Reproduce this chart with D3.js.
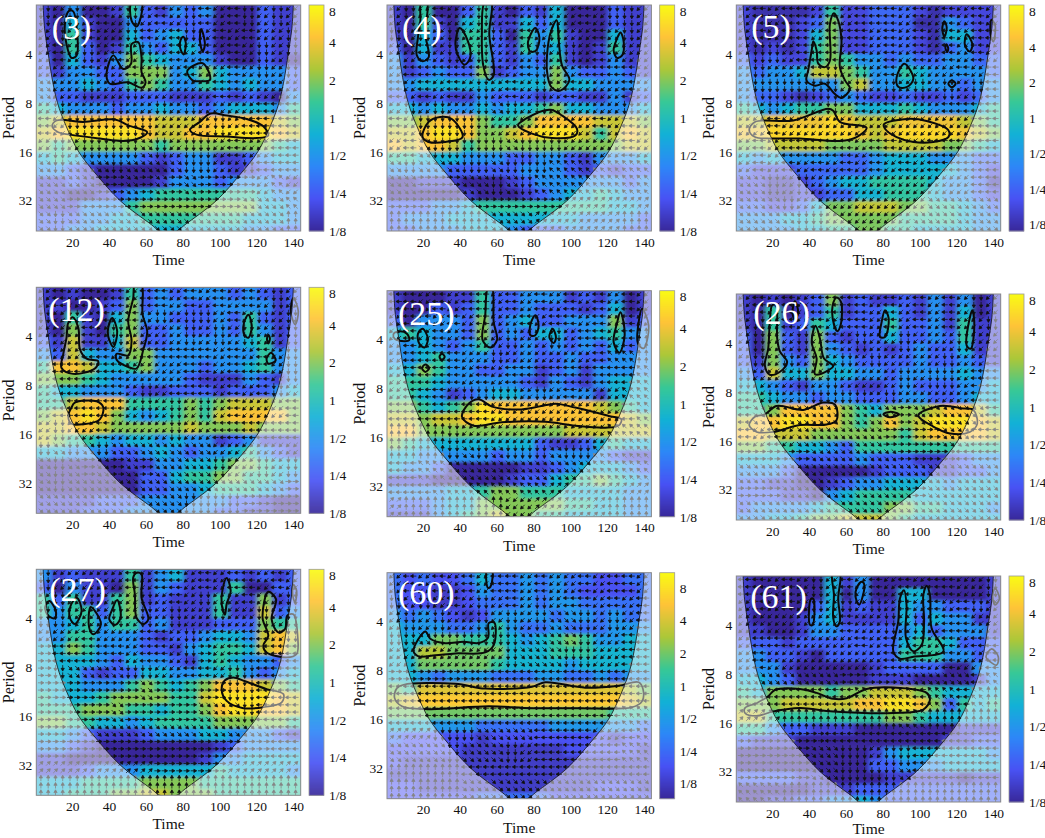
<!DOCTYPE html>
<html><head><meta charset="utf-8">
<script src="https://cdnjs.cloudflare.com/ajax/libs/d3/7.8.5/d3.min.js"></script>
<style>html,body{margin:0;padding:0;background:#fff}svg{display:block}text{font-family:"Liberation Serif",serif;fill:#111}</style>
</head><body><svg id="c" width="1045" height="838"></svg>
<script>
// Period rows run in quarter octaves from period 2; time columns are 8 units wide. Digits are power levels.
const power3=["103001521323000211","104100322222000211","105100423422000211","105201532442000211","204213654333100210","213322666346433332","333432565335434332","322111222111212103","543332334332344435","678888887778888876","789999987788999987","656666665666666654","454333321233112344","332100000233211233","112100001333233321","110012345555555433","111333566666666443","222334455555554443","223344444444443322"];
const power4=["105002510214000211","105104511424000211","104205520535100411","204115521534101511","313212521325101311","312322612336322321","334444444446443333","221211322212211312","443433434456443334","667888655688887776","778998667899975787","878875666666666677","554443332233213334","333322222333212122","001110001233333323","000001000123445433","222334555555555443","233344444444433332","223334443222333322"];
const power5=["100001511222101111","100012611222003211","100014611222104411","101015611222102311","212115653323223322","323347765335433332","333333367334433233","322101232112112123","543455664445433345","778888987778888765","889999998789999876","667777666677776654","434333322344433322","211122222344444321","110012344555543320","110011224455543321","221124667776655432","333445666665555433","333344556655444433"];
const power12=["101001523233323212","110012623322333312","105104633222325212","106105622322325312","217114722333334512","327433663333333533","588744563332334533","666543333321113213","544333211222122234","557888555565677766","678986434565788886","778876666676667666","765543443433123111","443332234323345321","000000113344566544","000000022455665543","000000022334555432","111122233333322100","111222333333221100"];
const power25=["100011522333121301","100212522322212401","203332623422333612","454332623244234533","334323522323232423","334533322322322333","446533223312313333","555433333213213444","554312344333331444","665456988888887654","776778998888888876","886666666666777777","654444444421124544","443333323323333211","433200000112344432","111000001224556543","333344566555444433","222344666666554433","111345676655444433"];
const power26=["101012612112131301","105012512242131401","105125422252231511","206216212242232511","206216321212322411","216326432222322321","327446443323333433","443213321123222334","554332332223322344","556888865466678875","788998865686799987","887776666665788887","665544325555555555","444322223222111233","333200000122211223","221100123344443444","222110345555444444","233334555566554443","334456677765444444"];
const power27=["312111513411121212","203110613211150022","525115612111511612","535525622111511723","334535523111222655","335533321223443787","446533322134554786","444432433214543323","444212244334453234","444333565456888765","544456666557999987","555666554556899887","665544345555666665","443211123334433321","332100000000123333","110000000001334444","111233344444544443","444555566665555555","445556677666555555"];
const power60=["212112422323221122","211001322323211112","211001222323322222","323210133332332322","433322353223222333","444665554345653344","447766664445554444","446666654444344444","443233322233223233","658888888888888876","789999999999999987","666666666666666555","444333222223333332","211111011111111011","111110000000111110","100000000000000000","000000000000000000","110000000000001110","111111222221111111"];
const power61=["100000413000000001","100000403004400001","100002412114332221","100013411114243311","110013322223423331","222122222224554222","332210222225553322","333100000122220033","443200000111000013","546666566777654444","666777778899862545","775555555566544444","553221110000000111","211100000000001122","000000000134444443","000000000223334444","222211000011111011","000001112222222222","001122334322222222"];
const levelLog2=[-3,-2.5,-1.9,-1.1,-0.4,0.3,1,1.6,2.1,2.6];

// Phase directions in keypad notation (8 up, 6 right, 2 down, 4 left, and diagonals between).
const phase3=["212141214124142121","121411241421414112","141214121414141212","111411412141141212","311211211111441111","121112112121111444","412222221111214444","121222232122141144","323332333322112444","333366363636666171","336666666666663337","323333333333333338"];
const phase4=["121411214121141221","212121121412114121","114121211121214111","144444441421144441","414141214121411141","121211232121111121","412222211111114141","143222223222111141","323332232227777777","336663323277777777","666666666666999999","888888833399999988"];
const phase5=["141441414441414141","141441444141414144","122144414141414141","121114212141111414","122222212121212124","212121214141114444","114111111111111144","141444441441144444","141414141414144444","332121111111111144","333211111111133333","333322111111333333"];
const phase12=["141414144141414121","212141412122141212","111412111121212112","111441144444141412","144444111144144412","144444121444141421","144444121212141114","121141111211444444","232323333333111111","323636363333211212","323333333333333336","333333333322226666"];
const phase25=["441414414141414141","144141411414414141","141414112112144148","144441121111114778","144441414444444447","144412222121411177","444444411111111147","888821111111111777","888823232223227777","447733333333337777","444777777779999999","988888881199999888"];
const phase26=["141414444141414121","121414144141414112","121121412112111211","121212121211112114","211121211112122144","412122222121111144","433333333336333334","414133333366663344","666663333336666444","333333333333333333","666333333333633333","333333333333333333"];
const phase27=["211111414414144141","121211121412114112","221112121211211212","111411144121414412","644444144126144444","623333221144122444","666666636666622444","666663666663332444","666333333333333344","666666666666666644","999999996666699999","888888888888888888"];
const phase60=["141414144141141441","212141214121441414","121211212123321214","223222222333321144","111111112333221144","666666444444444444","444444444444444444","444444444444444477","999222333344441147","333323332144444477","888884444444444444","888883333333333333"];
const phase61=["441412141414144112","141412121214141421","111111141121214411","144411114141414144","141111111144414114","333333366663333347","444444447777477478","999888888887788888","666666444444444444","666663322122444444","666663322223444444","777888888888888888"];

// Significance contours as [time, log2 period].
const contours3=[
[[18.2,1.12],[20.5,1.13],[22.7,1.59],[22.4,2.03],[19.6,2.08],[16.9,1.8],[16,1.39]],
[[42.3,2.03],[47.7,2.31],[51.9,2.2],[52.2,1.8],[55.8,1.76],[57.6,2.07],[57.6,2.37],[59.8,2.58],[57.6,2.69],[50.4,2.58],[40.5,2.61],[38.6,2.44]],
[[52.2,0.95],[57.6,0.95],[56.7,1.32],[54.9,1.44],[52.2,1.32]],
[[80.3,1.65],[81.7,1.8],[80.3,2.01],[78.5,1.86],[78.8,1.72]],
[[90,1.49],[92,1.8],[90.8,1.95],[89.3,1.73]],
[[90.8,2.19],[94.8,2.53],[89.3,2.56],[85.3,2.54],[82.4,2.35]],
[[11.5,3.36],[26,3.39],[43.2,3.34],[50.4,3.46],[60.7,3.6],[55.8,3.73],[47.7,3.78],[35,3.73],[18.7,3.65],[12.4,3.6],[9.1,3.48]],
[[95.1,3.22],[103.8,3.26],[114.7,3.33],[123.7,3.48],[126.4,3.67],[120,3.72],[103.8,3.69],[87.5,3.65],[83.9,3.55],[89.3,3.39]]];
const contours4=[
[[19.1,0.95],[22.2,0.95],[21.3,1.59],[23.1,2.07],[19.8,2.15],[16.7,2.03],[17.3,1.66],[18.6,1.32]],
[[39.9,1.47],[43.9,1.69],[45.7,2.07],[42.6,2.22],[39,2.03],[37.6,1.8]],
[[53.5,0.95],[57.1,0.95],[56,1.59],[58.4,2.44],[55.7,2.53],[52.9,2.27],[52,1.59]],
[[81,1.47],[83.2,1.66],[81.4,1.93],[78.3,1.95],[77,1.76]],
[[92.6,1.31],[93.7,1.73],[95.5,2.24],[99.5,2.53],[94.6,2.75],[90,2.69],[87.3,2.34],[89.1,1.59]],
[[127.2,1.56],[129,1.76],[128.1,2.03],[125.3,2.08],[123.5,1.93],[125.3,1.69]],
[[29.4,3.29],[35.7,3.33],[41.5,3.7],[32.1,3.8],[23.1,3.8],[19.8,3.7],[23.1,3.39]],
[[89.1,3.14],[95.5,3.26],[103.6,3.53],[102.7,3.67],[90,3.72],[79.2,3.63],[71.6,3.46],[75.6,3.33]]];
const contours5=[
[[42.3,1.74],[44.1,1.93],[45,2.2],[48.6,2.27],[51.3,2.14],[51.3,1.39],[53.5,1.17],[55.8,1.32],[57.6,1.73],[56.7,2.27],[59.5,2.54],[62.2,2.71],[57.6,2.9],[54,2.82],[48.6,2.61],[43.2,2.65],[38.6,2.54],[39.5,2.34],[41.4,1.93]],
[[91.7,2.2],[96.6,2.51],[92.9,2.68],[88.4,2.67],[87.5,2.48]],
[[113.4,1.33],[114.7,1.46],[113.4,1.65],[112.3,1.49]],
[[125.5,1.6],[128.6,1.8],[127.3,1.95],[124.6,1.83]],
[[117.4,2.54],[119.5,2.61],[117.4,2.68],[115.6,2.61]],
[[114.5,1.8],[115.5,1.88],[115,1.96],[114,1.88]],
[[139,1.3],[141,1.42],[140,1.75],[138.5,1.6]],
[[10.6,3.39],[31.4,3.36],[50.4,3.12],[53.1,3.16],[56.7,3.39],[71.2,3.51],[65.8,3.7],[56.7,3.78],[35,3.73],[19.6,3.73],[10.6,3.7],[7.5,3.56]],
[[80.6,3.44],[92.9,3.33],[103.8,3.37],[115.6,3.56],[115.6,3.7],[107.4,3.8],[96.6,3.8],[87.5,3.7],[81.2,3.53]]];
const contours12=[
[[20.2,1.61],[23.3,1.83],[24.2,2.27],[27.8,2.46],[34.1,2.51],[32.3,2.66],[20.5,2.77],[14.2,2.65],[15.1,2.37],[16.9,2.03],[17.8,1.73]],
[[41.7,1.63],[44.4,1.9],[42.3,2.22],[39.5,2],[39.5,1.83]],
[[54,0.95],[57.6,0.95],[58.2,1.56],[60.7,1.9],[58.6,2.27],[54.9,2.66],[50.4,2.63],[44.1,2.48],[44.1,2.36],[50.4,2.39],[52.2,2.1],[50.4,1.69],[53.1,1.22]],
[[115.6,1.56],[117.4,1.8],[115.6,2.03],[113.4,1.97],[113.2,1.73]],
[[126.4,1.97],[127.3,2.05],[126.4,2.15],[125.7,2.05]],
[[127.9,2.34],[130.4,2.5],[126.4,2.56],[125.5,2.46]],
[[21.4,3.36],[33.2,3.33],[36.8,3.45],[35,3.7],[26,3.8],[19.6,3.79],[17.8,3.63],[19.6,3.46]],
[[140,1.22],[142.7,1.49],[141,1.76],[138.6,1.49]]];
const contours25=[
[[55.3,0.95],[57.5,0.95],[58.4,1.64],[60.2,2.01],[56.6,2.16],[52.4,2.01],[53.8,1.5]],
[[81,1.5],[82.8,1.71],[81,1.91],[78.3,1.91],[78.5,1.67]],
[[90.4,1.78],[92.2,1.95],[91,2.07],[88.6,1.95]],
[[127.2,1.44],[129.5,1.91],[126.6,2.27],[123.5,2.05],[125.3,1.67]],
[[138.9,1.37],[142.5,1.71],[139.8,2.18],[136.7,2.08],[137.1,1.64]],
[[7.7,1.83],[11.3,1.88],[12.6,2.01],[8.6,2.03],[4.6,1.98],[4.1,1.88]],
[[19.8,1.78],[22.7,1.98],[20.9,2.16],[18,2.08],[17.3,1.88]],
[[30.3,2.29],[31.8,2.35],[30.3,2.42],[29,2.35]],
[[21.3,2.51],[23.4,2.58],[21.3,2.66],[19.5,2.58]],
[[50.2,3.22],[57.5,3.37],[71.9,3.43],[82.8,3.37],[91.9,3.31],[102.7,3.39],[120.8,3.56],[127.7,3.63],[126.2,3.76],[119,3.8],[102.7,3.76],[86.4,3.68],[62.9,3.69],[47.5,3.76],[41.2,3.58],[44.8,3.31]]];
const contours26=[
[[20,1.23],[22,1.23],[22.7,1.91],[24.2,2.18],[28.1,2.39],[24.2,2.59],[18.7,2.65],[16,2.46],[17.8,2.12],[18.7,1.57]],
[[32.3,1.15],[34.1,1.37],[32.3,1.54],[31,1.37]],
[[43.5,1.65],[45.9,1.91],[48.1,2.32],[53.1,2.47],[50.4,2.56],[43.2,2.64],[44.1,2.32],[41.4,1.98]],
[[54.9,1.07],[57.3,1.16],[57.1,1.64],[55.3,1.76],[52.8,1.5],[52.8,1.23]],
[[81.2,1.33],[83.2,1.5],[81.2,1.88],[78.5,1.88],[79.4,1.57]],
[[128.6,1.33],[129.7,1.64],[127.7,2.12],[125.5,2.05],[126.4,1.64]],
[[10.6,3.51],[16,3.46],[22.4,3.29],[36.8,3.37],[47.7,3.22],[54,3.26],[54.9,3.58],[49.5,3.67],[35,3.68],[20.5,3.82],[11.5,3.82],[7.5,3.68]],
[[80.3,3.46],[83.9,3.41],[88.8,3.46],[83.9,3.52]],
[[99.3,3.48],[111,3.29],[123.7,3.34],[129.1,3.37],[131.3,3.65],[127.3,3.82],[116.5,3.85],[107.4,3.71]]];
const contours27=[
[[7.5,1.65],[11.1,1.85],[10.6,2],[7,1.95],[5.2,1.78]],
[[22.4,1.58],[25.1,1.85],[21.4,2.12],[18.7,1.99],[19.1,1.75]],
[[30,1.77],[35.6,2.12],[31.4,2.33],[29.2,2.19]],
[[44.4,1.63],[46.2,1.99],[43.2,2.14],[40.1,2.02],[41.4,1.85]],
[[54.9,1.07],[57.6,1.1],[57.6,1.58],[61.3,2.02],[58.6,2.12],[54.9,1.99],[54,1.51],[53.1,1.17]],
[[103.8,1.18],[106,1.44],[103.8,1.71],[102.9,1.93],[101.1,1.71],[101.6,1.41]],
[[126.4,1.46],[130.6,1.61],[128.2,2.02],[131.9,2.29],[135.5,2.22],[136.7,1.95],[140,1.92],[142.4,2.39],[141.8,2.73],[136.4,2.8],[125.5,2.7],[123.7,2.56],[126.4,2.36],[123.3,1.99]],
[[140,1.31],[141.8,1.44],[140.9,1.68],[139.6,1.51]],
[[107.4,3.21],[113.8,3.29],[125.5,3.45],[134.6,3.55],[133.7,3.72],[123.7,3.82],[112.9,3.84],[103.8,3.69],[101.1,3.45],[102.9,3.27]]];
const contours60=[
[[21.3,2.2],[24,2.35],[32.1,2.44],[42.1,2.41],[50.2,2.44],[55.3,2.33],[55.7,2.03],[58.7,2.02],[58.4,2.48],[53.8,2.63],[37.6,2.65],[26.7,2.69],[17.6,2.71],[14.9,2.6]],
[[54.8,0.95],[57.5,0.95],[56.6,1.29],[55.3,1.31]],
[[9.5,3.29],[37.6,3.27],[53.8,3.37],[79.2,3.33],[86.4,3.24],[108.1,3.35],[126.2,3.31],[137.1,3.24],[139.5,3.39],[138.9,3.63],[133.5,3.75],[104.5,3.77],[79.2,3.77],[55.7,3.73],[23.1,3.79],[8.6,3.73],[4.6,3.56],[5.9,3.36]]];
const contours61=[
[[41,1.47],[42.3,1.47],[41.9,2],[40.5,2]],
[[52.8,0.95],[56.7,0.95],[55.8,1.46],[56.7,1.93],[54.9,2.03],[53.1,1.86],[53.5,1.39]],
[[68.5,1.12],[70,1.18],[67.2,1.59],[65.2,1.42],[65.8,1.25]],
[[91.5,1.29],[92.9,1.59],[92.6,2.27],[96.6,2.54],[101.1,2.41],[102.4,1.93],[102,1.39],[103.8,1.2],[105.6,1.39],[106.5,2.07],[112.9,2.54],[96.6,2.65],[89.3,2.69],[85.7,2.54],[88.4,1.93],[89.3,1.46]],
[[139.1,2.49],[142.7,2.65],[141.8,2.82],[138.2,2.75],[136,2.65]],
[[140.9,1.25],[143.3,1.46],[140.9,1.59],[139.6,1.42]],
[[5.2,3.7],[11.5,3.6],[17.8,3.46],[21.4,3.33],[35,3.31],[44.1,3.39],[53.1,3.51],[60.4,3.5],[71.2,3.31],[85.7,3.28],[103.8,3.39],[105.6,3.53],[102,3.73],[85.7,3.8],[53.1,3.77],[35,3.7],[20.5,3.77],[11.5,3.86],[5.2,3.8]]];

// Cone of influence: distance from either end of the record against period.
const coneDistance=[4.2,5,7,9,12,16.5,23.5,33,46,63,67.6];
const conePeriod=[2,2.8,4,5.6,8,11,16,22,32,45,49.2];

const xTicks=[20,40,60,80,100,120,140];
const yTicks=[4,8,16,32];
const barValues=[8,4,2,1,1/2,1/4,1/8];
const barLabels=["8","4","2","1","1/2","1/4","1/8"];
const parulaColors=["#38289a","#4852f4","#2d87f7","#12b1d6","#37c897","#abc739","#fec338","#f9fb14"];
const panelNames=["(3)","(4)","(5)","(12)","(25)","(26)","(27)","(60)","(61)"];
const panelPower=[power3,power4,power5,power12,power25,power26,power27,power60,power61];
const panelPhase=[phase3,phase4,phase5,phase12,phase25,phase26,phase27,phase60,phase61];
const panelContours=[contours3,contours4,contours5,contours12,contours25,contours26,contours27,contours60,contours61];

// Layout
const frames=[
 {l:36.3,t:5,tag:[15.5,34],cb:3},{l:387,t:5,tag:[15,34],cb:3},{l:736.3,t:5,tag:[15,33],cb:3.18},
 {l:36.3,t:287.3,tag:[12,34],cb:3},{l:387,t:290.7,tag:[11,34],cb:3},{l:736.3,t:294,tag:[17,30],cb:3},
 {l:36.3,t:569.3,tag:[13,32],cb:3},{l:387,t:572.7,tag:[11,31],cb:3.47},{l:736.3,t:576,tag:[14,32],cb:3}];
const W=264.4,H=226,CBX=272.7,CBW=15;

const dirAngle={8:-90,9:-45,6:0,3:45,2:90,1:135,4:180,7:-135};
const svg=d3.select("#c");
const defs=svg.append("defs");
const blur=defs.append("filter").attr("id","soft").attr("x",-0.1).attr("y",-0.1).attr("width",1.2).attr("height",1.2);
blur.append("feGaussianBlur").attr("stdDeviation","2.6 1.7");

frames.forEach((f,i)=>{
  const g=svg.append("g").attr("transform",`translate(${f.l},${f.t})`);
  const x=d3.scaleLinear().domain([0.5,144]).range([0,W]);
  const y=d3.scaleLog().base(2).domain([2,49.2]).range([0,H]);
  const yL=v=>y(Math.pow(2,v));
  const color=d3.scaleLinear().domain(d3.range(8).map(k=>-f.cb+k*2*f.cb/7)).range(parulaColors).clamp(true);

  const id="p"+i;
  const conePts=[...coneDistance.map((d,k)=>[x(d),y(conePeriod[k])]),
                 ...coneDistance.map((d,k)=>[x(144.2-d),y(conePeriod[k])]).reverse()];
  const coneLine=d3.line().curve(d3.curveCatmullRom.alpha(0.5));
  const coneD=`M${x(coneDistance[0])},0`+coneLine(conePts).replace(/^M/,"L")+`L${x(144.2-coneDistance[0])},0Z`;
  const rectD=`M0,0H${W}V${H}H0Z`;
  defs.append("clipPath").attr("id",id+"box").append("rect").attr("width",W).attr("height",H);
  defs.append("clipPath").attr("id",id+"in").append("path").attr("d",coneD);
  defs.append("clipPath").attr("id",id+"out").append("path").attr("d",rectD+coneD).attr("clip-rule","evenodd");

  // power heat map
  const clipG=g.append("g").attr("clip-path",`url(#${id}box)`);
  const cells=clipG.append("g").attr("filter","url(#soft)");
  const power=panelPower[i];
  power.forEach((row,r)=>{
    const y0=yL(1+r*0.25)-(r===0?10:0), y1=yL(1+(r+1)*0.25)+(r===power.length-1?20:0);
    for(let c=0;c<18;c++){
      const ch=row[c]??row[row.length-1];
      const x0=x(0.5+c*8)-(c===0?10:0), x1=x(0.5+(c+1)*8)+(c===17?10:0);
      cells.append("rect").attr("x",x0).attr("y",y0).attr("width",x1-x0+0.5).attr("height",y1-y0+0.5)
        .attr("fill",color(levelLog2[+ch]));
    }
  });
  // whitened region outside the cone
  clipG.append("path").attr("d",rectD+coneD).attr("fill-rule","evenodd").attr("fill","#fff").attr("opacity",0.5);

  // phase arrows
  const phase=panelPhase[i];
  const inCone=(t,L)=>{
    const p=Math.pow(2,L);
    let k=conePeriod.findIndex(v=>v>=p); if(k<1)k=1;
    const d=coneDistance[k-1]+(coneDistance[k]-coneDistance[k-1])*(p-conePeriod[k-1])/(conePeriod[k]-conePeriod[k-1]);
    return t>=d&&t<=144.2-d;
  };
  let dIn="",dOut="";
  for(let t=3;t<=143;t+=3.95){
    for(let L=1.07;L<5.6;L+=0.15){
      const rr=Math.min(11,Math.floor((L-1)/(4.62/12)));
      const cc=Math.min(17,Math.floor((t-0.5)/8));
      const a=dirAngle[phase[rr][cc]]*Math.PI/180;
      const px=x(t),py=yL(L),len=3,ca=Math.cos(a),sa=Math.sin(a);
      const tx=px+ca*len,ty=py+sa*len,bx=px-ca*len,by=py-sa*len;
      const hx=tx-ca*2.8,hy=ty-sa*2.8,nx=-sa*1.6,ny=ca*1.6;
      const s=`M${bx.toFixed(1)},${by.toFixed(1)}L${hx.toFixed(1)},${hy.toFixed(1)}M${tx.toFixed(1)},${ty.toFixed(1)}L${(hx+nx).toFixed(1)},${(hy+ny).toFixed(1)}L${(hx-nx).toFixed(1)},${(hy-ny).toFixed(1)}Z`;
      if(inCone(t,L))dIn+=s;else dOut+=s;
    }
  }
  clipG.append("path").attr("d",dOut).attr("fill","#858585").attr("stroke","#858585").attr("stroke-width",0.8);
  clipG.append("path").attr("d",dIn).attr("fill","#111").attr("stroke","#111").attr("stroke-width",0.8);

  // cone outline
  clipG.append("path").attr("d",coneD).attr("fill","none").attr("stroke","#111").attr("stroke-width",0.8);

  // significance contours: black in the cone, grey outside
  const contourLine=d3.line().x(d=>x(d[0])).y(d=>yL(d[1])).curve(d3.curveCatmullRomClosed.alpha(0.5));
  const outer=clipG.append("g").attr("clip-path",`url(#${id}out)`);
  const inner=clipG.append("g").attr("clip-path",`url(#${id}in)`);
  panelContours[i].forEach(c=>{
    outer.append("path").attr("d",contourLine(c)).attr("fill","none").attr("stroke","#7c7c7c").attr("stroke-width",1.7);
    inner.append("path").attr("d",contourLine(c)).attr("fill","none").attr("stroke","#0a0a0a").attr("stroke-width",2);
  });

  // frame and axes
  g.append("rect").attr("width",W).attr("height",H).attr("fill","none").attr("stroke","#8a8a8a").attr("stroke-width",1);
  const ax=g.append("g").attr("transform",`translate(0,${H})`).call(d3.axisBottom(x).tickValues(xTicks).tickSize(0).tickPadding(6));
  const ay=g.append("g").call(d3.axisLeft(y).tickValues(yTicks).tickFormat(d3.format("d")).tickSize(0).tickPadding(4));
  [ax,ay].forEach(a=>{a.select(".domain").remove();a.selectAll("text").attr("font-size",13.5).attr("font-family","Liberation Serif").attr("fill","#111");});
  g.append("text").attr("x",W/2).attr("y",H+(i===8?32:34)).attr("text-anchor","middle").attr("font-size",15.5).text("Time");
  g.append("text").attr("transform",`translate(-22,${H/2}) rotate(-90)`).attr("text-anchor","middle").attr("font-size",16).text("Period");
  g.append("text").attr("x",f.tag[0]).attr("y",f.tag[1]).attr("font-size",34).style("fill","#fff").text(panelNames[i]);

  // colour bar
  const cbScale=d3.scaleLinear().domain([-f.cb,f.cb]).range([H,0]);
  const cb=g.append("g").attr("transform",`translate(${CBX},0)`);
  d3.range(0,H,1).forEach(p=>{
    cb.append("rect").attr("y",p).attr("width",CBW).attr("height",1.4).attr("fill",color(cbScale.invert(p+0.5)));
  });
  cb.append("rect").attr("width",CBW).attr("height",H).attr("fill","none").attr("stroke","#9a9a9a").attr("stroke-width",0.8);
  const cbAxis=cb.append("g").attr("transform",`translate(${CBW},0)`)
    .call(d3.axisRight(cbScale).tickValues(barValues.map(Math.log2)).tickFormat((d,k)=>barLabels[k]).tickSize(0).tickPadding(5));
  cbAxis.select(".domain").remove();
  cbAxis.selectAll("text").attr("font-size",13.5).attr("font-family","Liberation Serif").attr("fill","#111")
    .attr("dy",(d,k)=>k===0&&f.cb===3?"0.75em":"0.32em");
});
</script></body></html>
